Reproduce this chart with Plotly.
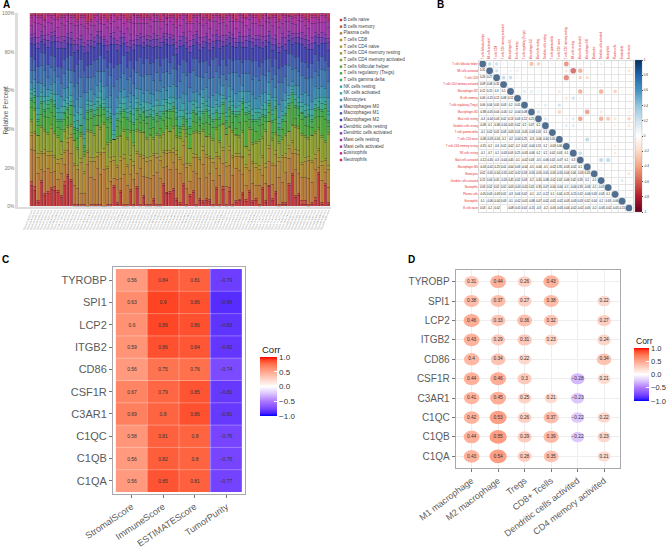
import plotly.graph_objects as go

W, H = 669, 548

# panel A: immune fractions per sample, 22 cell types
cell_types = ["B cells naive", "B cells memory", "Plasma cells", "T cells CD8", "T cells CD4 naive",
              "T cells CD4 memory resting", "T cells CD4 memory activated", "T cells follicular helper",
              "T cells regulatory (Tregs)", "T cells gamma delta", "NK cells resting", "NK cells activated",
              "Monocytes", "Macrophages M0", "Macrophages M1", "Macrophages M2", "Dendritic cells resting",
              "Dendritic cells activated", "Mast cells resting", "Mast cells activated", "Eosinophils", "Neutrophils"]
cell_colors = ["#c43a3c", "#c8503a", "#b97b36", "#b18b30", "#a69a2e", "#90a02f", "#72a635", "#4fa83a", "#40a84e",
               "#3da86a", "#3aa68f", "#39a5a5", "#3a8fae", "#3d78b0", "#3f5fb0", "#4040ae", "#683cb0", "#8a38ae",
               "#a035a8", "#ae30a0", "#bc3085", "#c23058"]
b_naive = [12,9,2,13,6,7,9,8,7,5, 11,15,13,0,0,0,0,0,0,0, 0,0,0,0,0,10,1,7,0,0, 8,0,9,0,5,0,0,3,0,0,
           11,7,7,9,3,1,10,0,5,7, 0,3,2,3,3,0,9,0,9,0, 8,0,2,3,7,3,7,2,3,0, 9,2,11,3,7,0,1,1,13,19,
           5,6,1,1,0,1,3,17,1,12,1]
b_memory = [2,2,1,1,1,1,1,2,1,1, 2,1,1,1,1,1,1,0,1,1, 1,1,0,1,1,1,1,1,1,1, 1,1,1,1,1,1,1,1,1,1,
            1,1,1,1,1,1,1,1,1,1, 1,1,1,1,1,1,1,1,2,1, 2,1,1,1,1,1,1,1,1,1, 1,1,1,1,1,1,1,1,1,1,
            1,1,2,2,1,1,2,1,1,1,1]
plasma = [18,20,14,6,12,12,8,8,6,11, 9,12,14,9,8,5,5,22,14,13, 18,15,20,8,12,4,12,6,15,10,
          8,12,7,18,10,14,14,12,16,14, 8,14,12,14,15,14,9,8,7,10, 16,10,18,11,14,12,10,14,12,9,
          12,15,17,15,10,8,10,8,7,10, 6,8,13,7,14,14,10,15,15,12, 14,11,12,12,14,10,14,3,12,6,8]
cd8 = [8,9,8,9,10,7,9,7,8,8, 6,4,8,10,9,14,9,6,8,9, 6,10,9,10,10,9,6,9,8,10, 8,7,10,6,9,8,9,10,7,9,
       8,7,9,6,8,7,9,10,8,7, 8,9,7,10,8,9,6,8,7,10, 8,9,6,7,9,10,8,10,9,8, 9,8,7,9,6,8,12,7,6,7,
       9,10,7,8,9,10,6,9,8,7,9]
cd4_naive = [2,1,2,1,2,2,2,1,2,2, 1,2,2,1,2,2,1,1,2,2, 2,1,2,1,2,2,1,2,2,1, 2,2,1,1,2,2,2,1,2,2,
             1,2,1,2,2,1,2,2,1,2, 2,1,2,2,1,2,2,1,2,2, 2,1,2,2,1,2,2,1,2,2, 1,2,2,1,2,2,1,2,2,1,
             2,2,1,2,2,1,2,1,2,1,2]
cd4_rest = [6,12,9,13,10,9,12,11,11,7, 10,6,4,11,8,10,7,10,13,11, 14,12,13,11,8,9,14,10,12,13,
            12,8,10,11,12,9,11,7,9,10, 8,12,10,11,7,9,6,13,8,10, 11,12,8,9,11,9,12,7,12,14,
            10,12,9,8,13,10,11,8,10,12, 9,15,13,11,9,7,8,9,8,9, 12,12,14,10,9,13,11,10,13,9,16]
cd4_act = [1,1,0,1,1,1,2,1,1,0, 1,1,1,0,1,1,1,1,1,1, 0,1,1,1,1,0,1,1,1,1, 1,1,1,1,0,1,1,1,1,1,
           1,1,0,1,1,1,1,1,0,1, 1,1,1,0,1,1,1,1,1,0, 1,1,1,1,1,0,1,1,1,1, 1,1,0,1,1,1,1,1,0,1,
           1,1,1,1,1,0,1,1,1,1,1]
tfh = [7,3,5,6,7,8,6,8,4,6, 5,4,5,3,4,1,1,5,6,4, 5,6,4,8,9,0,5,7,6,4, 5,6,5,4,6,7,3,5,6,4,
       6,5,7,8,5,2,1,2,7,5, 4,3,3,7,5,6,4,7,5,3, 5,4,3,7,12,14,4,6,5,7, 6,4,5,3,7,3,4,6,14,13,
       4,6,7,5,6,4,7,6,10,12,3]
tregs = [4,3,2,6,3,5,6,5,3,4, 3,4,5,2,4,3,2,4,4,5, 3,4,3,4,2,0,3,4,3,5, 4,3,5,3,4,3,6,4,3,5,
         4,3,4,2,3,2,3,4,3,5, 4,3,5,6,4,3,4,3,5,3, 4,5,6,4,3,4,3,4,5,3, 4,2,4,5,6,3,4,3,2,5,
         6,4,3,4,5,3,4,4,3,6,2]
gamma = [1,1,1,1,1,2,1,1,1,1, 1,1,0,1,1,0,1,1,1,1, 1,1,1,1,1,0,1,1,1,1, 1,1,1,1,1,1,1,1,1,1,
         1,1,1,1,1,1,1,1,1,1, 1,1,1,1,1,1,1,1,1,1, 1,1,1,2,1,1,1,1,1,1, 1,1,1,1,1,1,1,1,1,1,
         1,1,1,1,1,1,1,1,1,2,1]
nk_rest = [3,2,3,3,4,2,3,2,4,4, 3,2,2,3,4,5,3,3,2,2, 3,4,2,3,2,3,3,2,3,3, 3,4,3,3,2,3,3,4,4,3,
           3,4,3,2,3,5,3,3,4,3, 3,3,4,2,3,3,3,2,2,2, 3,3,2,3,2,3,3,2,4,3, 3,3,2,3,3,2,2,3,3,2,
           3,2,3,3,3,2,2,3,3,2,3]
nk_act = [2,2,3,2,3,2,2,3,2,3, 3,3,3,3,4,3,2,2,2,3, 2,3,2,2,3,2,3,2,3,2, 2,3,2,2,3,4,3,2,2,3,
          3,2,3,3,2,3,3,2,3,2, 3,2,3,2,2,3,2,3,2,2, 3,2,2,2,4,3,2,3,2,2, 2,3,3,2,2,3,2,3,2,2,
          3,3,2,3,2,3,3,2,3,2,2]
monocytes = [4,5,6,5,6,4,3,6,7,5, 6,5,7,4,6,5,7,4,6,5, 6,5,7,5,6,8,5,6,4,6, 5,6,5,7,4,6,5,6,5,7,
             6,5,6,7,5,6,5,7,6,4, 5,6,4,7,5,6,4,6,5,7, 5,6,7,5,3,6,5,7,5,6, 6,5,7,6,5,7,5,4,6,3,
             5,6,4,6,5,4,6,5,6,5,7]
m0 = [7,5,7,10,8,6,9,6,9,7, 8,9,6,10,8,9,12,8,6,9, 7,5,8,6,10,15,9,7,8,9, 9,6,8,7,9,8,10,7,9,6,
      8,10,7,9,6,8,10,9,7,11, 8,9,6,8,10,9,11,8,6,9, 7,9,11,8,7,10,9,7,11,8, 10,8,6,9,7,11,9,8,12,7,
      9,8,10,7,9,12,8,7,9,10,8]
m1 = [8,6,8,7,9,7,6,7,5,8, 7,6,8,7,9,8,10,6,7,8, 6,8,7,9,7,10,8,7,9,6, 8,7,6,9,7,8,6,9,7,8,
      7,8,6,7,9,8,6,7,8,6, 9,7,8,6,7,9,7,6,8,7, 8,6,7,9,6,8,7,9,8,7, 6,8,7,6,9,7,8,6,7,9,
      6,8,7,8,6,7,9,8,7,6,8]
m2 = [7,8,9,6,5,9,7,8,9,10, 6,7,6,9,7,6,8,7,9,7, 8,6,7,8,9,12,7,9,6,8, 7,9,8,6,8,7,9,8,6,9,
      8,7,9,6,8,9,7,6,10,7, 8,6,7,9,8,6,9,8,7,10, 8,7,6,9,8,7,9,6,8,10, 7,6,9,8,7,8,10,7,8,6,
      8,7,9,8,9,7,6,8,7,9,8]
dc_rest = [3,4,3,3,3,4,3,3,4,3, 4,3,3,4,3,3,3,4,3,3, 4,3,3,3,4,3,3,4,3,3, 4,3,3,4,3,3,3,4,3,3,
           3,3,4,3,3,3,4,3,3,3, 4,3,3,3,4,3,3,4,3,3, 3,4,3,3,3,4,3,3,3,4, 3,3,4,3,3,3,4,3,3,4,
           3,3,3,4,3,3,3,4,3,3,4]
dc_act = [2,2,3,2,2,3,2,2,2,3, 2,2,3,2,3,2,2,2,3,2, 2,3,2,2,2,3,2,3,2,2, 3,2,2,2,3,2,2,3,2,2,
          2,3,2,2,3,2,2,2,3,2, 2,3,2,2,2,3,2,2,3,2, 3,2,2,2,3,2,3,2,2,2, 3,2,2,3,2,2,2,3,2,3,
          2,2,3,2,2,3,2,2,3,2,2]
mast_rest = [5,6,7,4,5,6,5,6,5,7, 6,6,5,7,6,5,7,6,5,6, 5,4,6,7,5,6,7,6,5,7, 6,8,6,5,7,6,5,6,7,5,
             6,5,7,6,8,5,6,7,5,6, 5,7,6,5,6,7,5,6,7,5, 6,7,5,6,8,6,5,7,6,5, 6,7,5,6,7,8,5,8,6,6,
             5,7,6,5,6,7,5,6,5,7,6]
mast_act = [5,4,3,4,3,4,3,2,4,3, 4,3,3,4,2,3,4,3,2,4, 3,2,4,3,3,3,4,2,3,4, 2,4,3,3,2,3,4,3,2,4,
            3,3,2,4,3,4,2,3,4,3, 2,4,3,3,4,2,3,3,2,4, 3,2,4,3,3,4,2,3,3,2, 4,3,2,4,3,3,4,2,3,3,
            4,3,2,3,4,3,3,2,4,3,3]
eosin = [1,1,1,1,1,1,1,1,1,1, 1,1,1,1,1,1,1,1,1,1, 1,1,1,1,1,1,1,1,1,1, 1,1,1,1,1,1,1,1,1,1,
         1,1,1,1,1,1,1,1,1,1, 1,1,1,1,1,1,1,1,1,1, 1,1,1,1,1,1,1,1,1,1, 1,1,1,1,1,1,1,1,1,1,
         1,1,1,1,1,1,1,1,1,1,1]
neutro = [1,0,1,1,3,0,1,0,2,1, 1,0,1,1,3,1,1,4,3,1, 0,2,1,3,1,0,2,0,1,3, 2,0,1,1,2,1,2,0,1,3,
          0,2,1,1,3,1,0,1,4,1, 1,0,2,1,3,1,0,1,2,1, 0,1,3,0,1,2,0,1,1,3, 1,0,2,1,1,3,0,1,1,2,
          1,0,1,2,3,1,1,2,0,1,3]
fractions = [b_naive, b_memory, plasma, cd8, cd4_naive, cd4_rest, cd4_act, tfh, tregs, gamma, nk_rest, nk_act,
             monocytes, m0, m1, m2, dc_rest, dc_act, mast_rest, mast_act, eosin, neutro]
samples = [f"TCGA-{i:02d}-A{i:03d}-01A" for i in range(1, 92)]

# panel B: cell type correlation, upper triangle by row
corr_labels = ["T cells follicular helper", "NK cells activated", "T cells CD8", "T cells CD4 memory activated",
               "Macrophages M1", "B cells memory", "T cells regulatory (Tregs)", "Macrophages M2",
               "Mast cells resting", "Dendritic cells resting", "T cells gamma delta", "T cells CD4 naive",
               "T cells CD4 memory resting", "NK cells resting", "Mast cells activated", "Macrophages M0",
               "Monocytes", "Dendritic cells activated", "Neutrophils", "Plasma cells", "Eosinophils", "B cells naive"]
corr_upper = [
    [.31,.26,.09,.12,.06,.06,-.38,-.3,-.08,-.1,-.08,-.55,-.1,-.12,-.03,.02,.15,.03,-.05,.1,.03],
    [.27,.08,.15,-.15,.04,-.05,-.04,-.1,.02,-.03,-.2,-.7,-.45,-.02,-.05,.04,.02,.03,-.06,-.2],
    [.31,.3,.12,.05,.04,.03,-.08,.02,-.04,-.6,-.1,-.3,-.25,-.04,.05,.02,-.03,-.04,-.02],
    [.1,.08,.03,-.05,.02,-.04,.03,-.1,.02,-.03,-.04,.02,-.05,-.03,.02,.02,.03],
    [.12,.2,.2,.13,-.05,-.03,-.2,-.02,.03,-.45,-.04,-.02,-.45,-.03,-.3,-.1,-.08],
    [.05,-.04,.03,.02,.01,-.04,-.2,.25,-.1,.03,-.02,.02,-.03,.04,-.02,-.01],
    [.08,.12,.2,-.05,.25,.02,-.03,-.02,-.04,.03,.03,-.02,.02,-.01,.02],
    [.25,.07,-.03,-.3,-.04,-.06,.03,-.5,-.03,-.2,.02,-.1,-.08,-.15],
    [.2,.05,-.06,.15,.2,-.5,-.04,-.05,-.45,-.35,-.2,-.07,-.3],
    [.1,-.04,.2,.2,-.06,-.1,-.05,-.08,-.07,-.12,-.02,-.2],
    [.05,-.03,.02,.02,-.02,-.03,-.02,-.04,.1,-.02,-.03],
    [.06,.03,-.07,.35,-.03,.02,-.04,.04,-.02,-.03],
    [.1,.1,-.03,-.04,-.06,-.1,-.15,-.03,-.04],
    [.3,-.02,.04,.02,-.04,-.15,-.03,-.02],
    [.1,-.03,.35,.35,.02,.03,-.02],
    [.03,.1,-.03,-.04,.02,-.05],
    [-.1,-.1,.03,.04,-.2],
    [-.07,-.03,.2,-.03],
    [.1,.03,-.02],
    [-.06,-.05],
    [-.15],
]
corr_ticks = [1, .8, .6, .4, .2, 0, -.2, -.4, -.6, -.8, -1]

# panel C: ESTIMATE scores against the hub genes
genes = ["TYROBP", "SPI1", "LCP2", "ITGB2", "CD86", "CSF1R", "C3AR1", "C1QC", "C1QB", "C1QA"]
score_names = ["StromalScore", "ImmuneScore", "ESTIMATEScore", "TumorPurity"]
score_corr = [[.56, .84, .81, -.79], [.63, .9, .86, -.86], [.6, .89, .86, -.83], [.59, .86, .84, -.82],
              [.56, .75, .76, -.74], [.67, .79, .85, -.81], [.69, .8, .86, -.81], [.58, .81, .8, -.76],
              [.56, .82, .8, -.76], [.56, .85, .81, -.77]]

# panel D: hub genes against immune cells, None where not significant
immune_names = ["M1 macrophage", "M2 macrophage", "Tregs", "CD8+ Tcells", "Dendritic cells activited",
                "CD4 memory activited"]
immune_corr = [[.31, .44, .26, .43, None, None], [.38, .37, .27, .38, None, .22], [.46, .33, .36, .32, None, .27],
               [.43, .29, .31, .23, None, .24], [.4, .34, .22, None, None, .34], [.44, .46, .3, None, -.28, .21],
               [.41, .45, .25, .21, -.23, None], [.42, .53, .26, .37, -.22, .22], [.44, .55, .29, .39, -.22, .23],
               [.43, .54, .28, .35, None, .21]]

# gradient2 blue/white/red, sampled so it keeps the Lab look
corr_stops = [(-1, "#0000FF"), (-.9, "#4A22FF"), (-.75, "#7A48FF"), (-.5, "#AE78FF"), (-.25, "#DAC2FF"), (0, "#FFFFFF"),
              (.25, "#FFD3C6"), (.5, "#FFA68D"), (.75, "#FF7450"), (.9, "#FF4424"), (1, "#FF0000")]
gradient2 = [[(v + 1) / 2, c] for v, c in corr_stops]
rdbu = [[(v + 1) / 2, c] for v, c in zip(corr_ticks[::-1], ["#67001F", "#B2182B", "#D6604D", "#F4A582", "#FDDBC7",
                                                          "#FFFFFF", "#D1E5F0", "#92C5DE", "#4393C3", "#2166AC",
                                                          "#053061"])]
FONT = "Liberation Sans"
GREY = "#5a5a5a"
BORDER = "#a9a9ad"


def dom_x(a, b):
    return [a / W, b / W]


def dom_y(top, bottom):
    return [1 - bottom / H, 1 - top / H]


def stop_color(v):
    # same gradient as the colour bar, for the ellipses in panel D
    for (v0, c0), (v1, c1) in zip(corr_stops, corr_stops[1:]):
        if v0 <= v <= v1:
            t = (v - v0) / (v1 - v0)
            rgb = [round(int(c0[i:i + 2], 16) * (1 - t) + int(c1[i:i + 2], 16) * t) for i in (1, 3, 5)]
            return f"rgb({rgb[0]},{rgb[1]},{rgb[2]})"


fig = go.Figure()

# A
for name, vals, col in zip(cell_types, fractions, cell_colors):
    fig.add_trace(go.Bar(x=list(range(len(samples))), y=vals, name=name, xaxis="x", yaxis="y", marker_color=col,
                         marker_line=dict(color="rgba(20,20,40,0.4)", width=0.4)))
fig.add_trace(go.Scatter(x=[2] * len(cell_types), y=list(range(len(cell_types))), mode="markers+text", xaxis="x2",
                         yaxis="y2", text=cell_types, textposition="middle right", cliponaxis=False,
                         textfont=dict(size=4.6, color="#444444"),
                         marker=dict(symbol="square", size=2.4, color=cell_colors)))

# B
n = len(corr_labels)
cx, cy, cval, cdiam, tx, ty, ttext = [], [], [], [], [], [], []
for i in range(n):
    cx.append(i + 1); cy.append(i + 1); cval.append(1); cdiam.append(6.7)
    for k, v in enumerate(corr_upper[i] if i < n - 1 else []):
        j = i + k + 1
        cx.append(j + 1); cy.append(i + 1); cval.append(v); cdiam.append(6.7 * abs(v) ** 0.5)
        tx.append(i + 1); ty.append(j + 1); ttext.append(f"{v:g}")
fig.add_trace(go.Scatter(x=cx, y=cy, mode="markers", xaxis="x3", yaxis="y3",
                         marker=dict(size=cdiam, color=cval, coloraxis="coloraxis3", line_width=0)))
fig.add_trace(go.Scatter(x=tx, y=ty, mode="text", xaxis="x3", yaxis="y3", text=ttext,
                         textfont=dict(size=2.7, color="#000000")))

# C
fig.add_trace(go.Heatmap(x=[1, 2, 3, 4], y=list(range(1, 11)), z=score_corr, coloraxis="coloraxis", xaxis="x4",
                         yaxis="y4", text=[[f"{v:g}".replace("-", "\u2212") for v in row] for row in score_corr],
                         texttemplate="%{text}", textfont=dict(size=5, color="#333333"), hoverinfo="skip"))

# D
shapes = []
dx, dy, dval, dtext = [], [], [], []
for r, row in enumerate(immune_corr):
    for c, v in enumerate(row):
        if v is None:
            continue
        dx.append(c + 1); dy.append(r + 1); dval.append(v)
        dtext.append(f"{v:g}".replace("-", "\u2212"))
        # ellipses: the panel is squeezed, so round points come out wider than tall
        wpx = 10.5 + 12.5 * abs(v)
        hpx = 0.8 * wpx
        shapes.append(dict(type="circle", xref="x5", yref="y5", layer="between", line_width=0,
                           fillcolor=stop_color(v),
                           x0=c + 1 - wpx / 2 / 26.6, x1=c + 1 + wpx / 2 / 26.6,
                           y0=r + 1 - hpx / 2 / 19.5, y1=r + 1 + hpx / 2 / 19.5))
fig.add_trace(go.Scatter(x=dx, y=dy, mode="markers+text", xaxis="x5", yaxis="y5", text=dtext,
                         textposition="middle center", textfont=dict(size=4.8, color="#333333"),
                         marker=dict(size=1, color=dval, coloraxis="coloraxis2", line_width=0)))

# faint lines between the heatmap cells
for i in range(1, 4):
    shapes.append(dict(type="line", xref="x4", yref="y4", x0=i + .5, x1=i + .5, y0=.5, y1=10.5,
                       line=dict(color="rgba(255,255,255,0.3)", width=1)))
for i in range(1, 10):
    shapes.append(dict(type="line", xref="x4", yref="y4", x0=.5, x1=4.5, y0=i + .5, y1=i + .5,
                       line=dict(color="rgba(255,255,255,0.3)", width=1)))
# pale seams between the bars in panel A
for i in range(len(samples) + 1):
    shapes.append(dict(type="line", xref="x", yref="y", x0=i - .5, x1=i - .5, y0=0, y1=100,
                       line=dict(color="rgba(215,215,225,0.32)", width=0.8)))

hidden = dict(visible=False)
box = dict(showline=True, mirror=True, linecolor=BORDER, linewidth=1, ticks="outside", ticklen=3, tickcolor="#777777",
           tickwidth=0.8, zeroline=False, tickmode="array")

fig.update_layout(
    width=W, height=H, margin=dict(l=0, r=0, t=0, b=0, autoexpand=False), paper_bgcolor="white", plot_bgcolor="white",
    font=dict(family=FONT, color=GREY), showlegend=False, barmode="stack", barnorm="percent", bargap=0,
    shapes=shapes,
    xaxis=dict(domain=dom_x(18, 330.5), range=[-4.1, 90.6], showline=True, linecolor="#dddddd", linewidth=2,
               zeroline=False, showgrid=False, tickmode="array", tickvals=list(range(len(samples))), ticktext=samples,
               tickangle=-68, ticklen=0, tickfont=dict(size=2.4, color="#8a8a8a"), anchor="y"),
    yaxis=dict(domain=dom_y(13.3, 206.5), range=[0, 100], showline=True, linecolor="#dddddd", linewidth=2.5,
               zeroline=False, showgrid=False, tickvals=[0, 20, 40, 60, 80, 100],
               ticktext=["0%", "20%", "40%", "60%", "80%", "100%"], ticklen=0, tickfont=dict(size=4.8, color="#777777"),
               anchor="x"),
    xaxis2=dict(domain=dom_x(339, 343), range=[0, 4], anchor="y2", **hidden),
    yaxis2=dict(domain=dom_y(16.67, 163.33), range=[21.5, -0.5], anchor="x2", **hidden),
    xaxis3=dict(domain=dom_x(479.2, 632.5), range=[.5, 22.5], side="top", anchor="y3", zeroline=False, showgrid=False,
                tickmode="array", tickvals=list(range(1, n + 1)), ticktext=corr_labels, tickangle=-90, ticklen=0,
                tickfont=dict(size=2.6, color="#e8262c"), showline=True, mirror=True, linecolor="#d9d9d9", linewidth=0.6,
                minor=dict(showgrid=True, gridcolor="#e4e4e4", gridwidth=0.5, tickvals=[i + .5 for i in range(1, n)])),
    yaxis3=dict(domain=dom_y(60.5, 211.5), range=[22.5, .5], anchor="x3", zeroline=False, showgrid=False,
                tickmode="array", tickvals=list(range(1, n + 1)), ticktext=corr_labels, ticklen=0,
                tickfont=dict(size=2.6, color="#e8262c"), showline=True, mirror=True, linecolor="#d9d9d9", linewidth=0.6,
                minor=dict(showgrid=True, gridcolor="#e4e4e4", gridwidth=0.5, tickvals=[i + .5 for i in range(1, n)])),
    xaxis4=dict(domain=dom_x(113, 245), range=[.41, 4.59], anchor="y4", tickvals=[1, 2, 3, 4], ticktext=score_names,
                tickangle=-34, tickfont=dict(size=9.2, color=GREY), showgrid=False, **box),
    yaxis4=dict(domain=dom_y(267, 494), range=[10.59, .41], anchor="x4", tickvals=list(range(1, 11)), ticktext=genes,
                tickfont=dict(size=11, color=GREY), showgrid=False, **box),
    xaxis5=dict(domain=dom_x(455.7, 620), range=[.4, 6.6], anchor="y5", tickvals=list(range(1, 7)),
                ticktext=immune_names, tickangle=-37, tickfont=dict(size=9, color=GREY), showgrid=True,
                gridcolor="#eeeeee", **box),
    yaxis5=dict(domain=dom_y(270, 468), range=[10.6, .4], anchor="x5", tickvals=list(range(1, 11)), ticktext=genes,
                tickfont=dict(size=10, color=GREY), showgrid=True, gridcolor="#eeeeee", **box),
    coloraxis=dict(cmin=-1, cmax=1, colorscale=gradient2, colorbar=dict(
        x=260 / W, xanchor="left", xpad=0, y=1 - 357 / H, yanchor="top", ypad=0, lenmode="pixels", len=59,
        thicknessmode="pixels", thickness=17, outlinewidth=0, tickvals=[-1, -.5, 0, .5, 1],
        ticktext=["\u22121.0", "\u22120.5", "0.0", "0.5", "1.0"], ticks="inside", ticklen=3, tickcolor="white",
        tickfont=dict(size=8, color="#333333"))),
    coloraxis2=dict(cmin=-1, cmax=1, colorscale=gradient2, colorbar=dict(
        x=634 / W, xanchor="left", xpad=0, y=1 - 348 / H, yanchor="top", ypad=0, lenmode="pixels", len=53,
        thicknessmode="pixels", thickness=15, outlinewidth=0, tickvals=[-1, -.5, 0, .5, 1],
        ticktext=["\u22121.0", "\u22120.5", "0.0", "0.5", "1.0"], ticks="inside", ticklen=3, tickcolor="white",
        tickfont=dict(size=7.5, color="#333333"))),
    coloraxis3=dict(cmin=-1, cmax=1, colorscale=rdbu, colorbar=dict(
        x=635 / W, xanchor="left", xpad=0, y=1 - 60 / H, yanchor="top", ypad=0, lenmode="pixels", len=152,
        thicknessmode="pixels", thickness=7, outlinewidth=0.3, outlinecolor="#888888", tickvals=corr_ticks,
        ticktext=[f"{v:g}" for v in corr_ticks], ticks="outside", ticklen=1.5, tickwidth=0.4, tickcolor="#444444",
        tickfont=dict(size=3, color="#333333"))),
)


def note(text, x, y, size, color="#000000", bold=False, textangle=0, anchor="left"):
    fig.add_annotation(text=f"<b>{text}</b>" if bold else text, x=x / W, y=1 - y / H, xref="paper", yref="paper",
                       showarrow=False, xanchor=anchor, yanchor="middle", textangle=textangle,
                       font=dict(size=size, color=color, family=FONT))


note("A", 1, 5, 10, bold=True)
note("B", 435, 5, 10, bold=True)
note("C", 0, 259, 10, bold=True)
note("D", 406, 259, 10, bold=True)
note("Corr", 260, 349, 9.5, "#222222")
note("Corr", 634, 341, 8.5, "#222222")
note("Relative Percent", 4.5, 110, 6.6, GREY, textangle=-90, anchor="center")

# the page's default body margin would push the whole figure 8px down and right
fig.write_html("out.html", config={"displayModeBar": False}, post_script="document.body.style.margin='0';")
